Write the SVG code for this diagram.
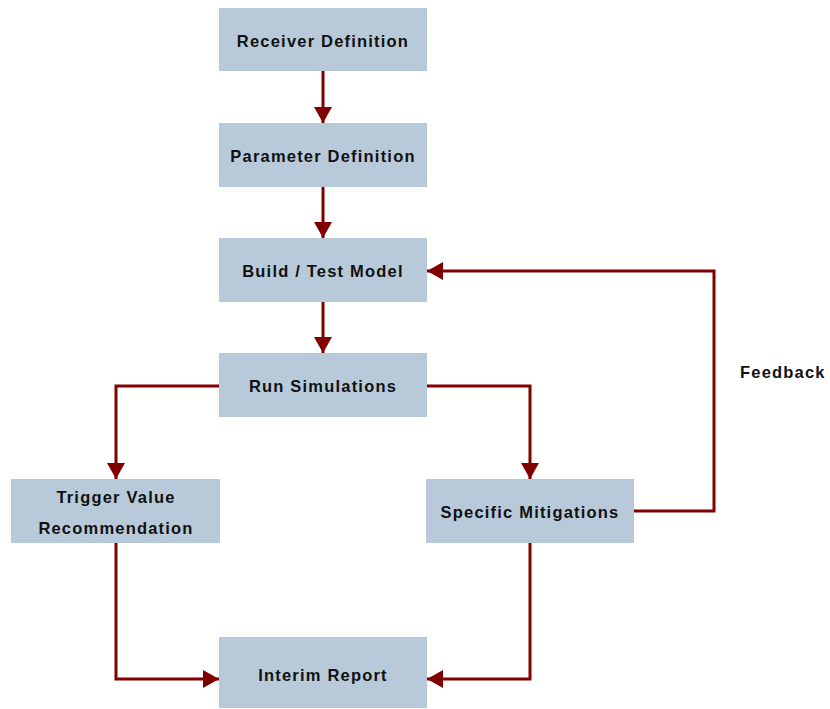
<svg xmlns="http://www.w3.org/2000/svg" width="830" height="709" viewBox="0 0 830 709">
  <style>
    .box { fill: #b8cad9; }
    .lbl { font-family: "Liberation Sans", Arial, sans-serif; font-weight: bold; font-size: 16.5px; letter-spacing: 1.2px; fill: #111; text-anchor: middle; }
    .conn { fill: none; stroke: #800000; stroke-width: 3; }
  </style>
  <defs>
    <marker id="arrow" viewBox="0 0 16 18" refX="16" refY="9" markerWidth="16" markerHeight="18" markerUnits="userSpaceOnUse" orient="auto">
      <path d="M0,0 L16,9 L0,18 Z" fill="#800000"/>
    </marker>
  </defs>

  <g id="connectors">
    <path class="conn" d="M323,71 V123" marker-end="url(#arrow)"/>
    <path class="conn" d="M323,187 V238" marker-end="url(#arrow)"/>
    <path class="conn" d="M323,302 V353" marker-end="url(#arrow)"/>
    <path class="conn" d="M219,386 H116 V479" marker-end="url(#arrow)"/>
    <path class="conn" d="M427,386 H530 V479" marker-end="url(#arrow)"/>
    <path class="conn" d="M634,511 H714 V271 H427" marker-end="url(#arrow)"/>
    <path class="conn" d="M116,543 V679 H219" marker-end="url(#arrow)"/>
    <path class="conn" d="M530,543 V679 H427" marker-end="url(#arrow)"/>
  </g>

  <g id="receiver-definition">
    <rect class="box" x="219" y="8" width="208" height="63"/>
    <text class="lbl" x="323" y="47">Receiver Definition</text>
  </g>
  <g id="parameter-definition">
    <rect class="box" x="219" y="123" width="208" height="64"/>
    <text class="lbl" x="323" y="162">Parameter Definition</text>
  </g>
  <g id="build-test-model">
    <rect class="box" x="219" y="238" width="208" height="64"/>
    <text class="lbl" x="323" y="277">Build / Test Model</text>
  </g>
  <g id="run-simulations">
    <rect class="box" x="219" y="353" width="208" height="64"/>
    <text class="lbl" x="323" y="392">Run Simulations</text>
  </g>
  <g id="trigger-value-recommendation">
    <rect class="box" x="11" y="479" width="209" height="64"/>
    <text class="lbl" x="116" y="503">Trigger Value</text>
    <text class="lbl" x="116" y="534">Recommendation</text>
  </g>
  <g id="specific-mitigations">
    <rect class="box" x="426" y="479" width="208" height="64"/>
    <text class="lbl" x="530" y="518">Specific Mitigations</text>
  </g>
  <g id="interim-report">
    <rect class="box" x="219" y="637" width="208" height="71"/>
    <text class="lbl" x="323" y="681">Interim Report</text>
  </g>
  <g id="feedback-label">
    <text class="lbl" x="740" y="378" style="text-anchor:start">Feedback</text>
  </g>
</svg>
